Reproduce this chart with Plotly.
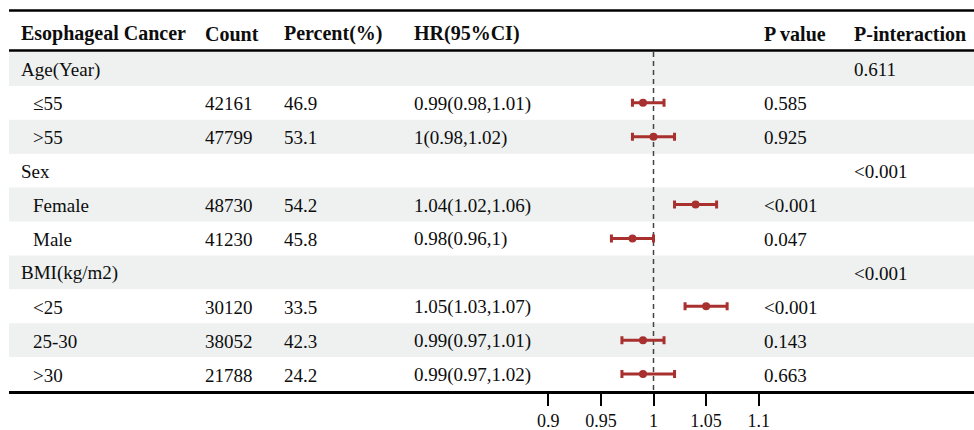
import plotly.graph_objects as go

# ---------------- data ----------------
headers = ["Esophageal Cancer", "Count", "Percent(%)", "HR(95%CI)", "P value", "P-interaction"]
labels = ["Age(Year)", "≤55", "&gt;55", "Sex", "Female", "Male", "BMI(kg/m2)", "&lt;25", "25-30", "&gt;30"]
is_group = [True, False, False, True, False, False, True, False, False, False]
counts = ["", "42161", "47799", "", "48730", "41230", "", "30120", "38052", "21788"]
percent = ["", "46.9", "53.1", "", "54.2", "45.8", "", "33.5", "42.3", "24.2"]
hr_text = ["", "0.99(0.98,1.01)", "1(0.98,1.02)", "", "1.04(1.02,1.06)", "0.98(0.96,1)",
           "", "1.05(1.03,1.07)", "0.99(0.97,1.01)", "0.99(0.97,1.02)"]
hr = [None, 0.99, 1.00, None, 1.04, 0.98, None, 1.05, 0.99, 0.99]
lo = [None, 0.98, 0.98, None, 1.02, 0.96, None, 1.03, 0.97, 0.97]
hi = [None, 1.01, 1.02, None, 1.06, 1.00, None, 1.07, 1.01, 1.02]
pvalue = ["", "0.585", "0.925", "", "&lt;0.001", "0.047", "", "&lt;0.001", "0.143", "0.663"]
pint = ["0.611", "", "", "&lt;0.001", "", "", "&lt;0.001", "", "", ""]
tick_vals = [0.9, 0.95, 1.0, 1.05, 1.1]
tick_text = ["0.9", "0.95", "1", "1.05", "1.1"]
ref_value = 1.0

# ---------------- layout helpers ----------------
W, H = 974, 430
ML, MR, MT, MB = 9, 0, 0, 39
FONT = "Liberation Serif"
TXT = "#0d0d0d"
RED = "#a8302f"
plot_w = W - ML - MR
plot_h = H - MT - MB
row_px = 33.9


def px(p):
    return (p - ML) / plot_w


def row_from_px(p):
    # convert pixel row position (from top) into row units
    return -0.5 - (52.0 - p) / row_px


col_x = [px(19), px(203), px(282), px(412), px(762), px(852)]
sub_x = px(31)
n = len(labels)
rows = list(range(n))
header_y = row_from_px(32.5)

fig = go.Figure()

# forest marks
xs, ys, ep, em = [], [], [], []
for i in rows:
    if hr[i] is not None:
        xs.append(hr[i])
        ys.append(i)
        ep.append(hi[i] - hr[i])
        em.append(hr[i] - lo[i])

fig.add_trace(go.Scatter(
    x=xs, y=ys, mode="markers",
    marker=dict(color=RED, size=8),
    error_x=dict(type="data", array=ep, arrayminus=em, color=RED, thickness=3, width=4),
    hoverinfo="skip", showlegend=False,
))

shapes = []
for i in rows:
    if i % 2 == 0:
        shapes.append(dict(type="rect", xref="paper", yref="y", x0=0, x1=1, y0=i - 0.5, y1=i + 0.5,
                           fillcolor="#eef1f0", line=dict(width=0), layer="below"))
shapes.append(dict(type="line", xref="x", yref="y", x0=ref_value, x1=ref_value, y0=-0.5, y1=n - 0.5,
                   line=dict(color="#444444", width=1.5, dash="5px,4px"), layer="below"))
shapes.append(dict(type="line", xref="paper", yref="y", x0=0, x1=1,
                   y0=row_from_px(10.5), y1=row_from_px(10.5),
                   line=dict(color="black", width=2.5), layer="above"))
shapes.append(dict(type="line", xref="paper", yref="y", x0=0, x1=1,
                   y0=row_from_px(50.5), y1=row_from_px(50.5),
                   line=dict(color="black", width=2.5), layer="above"))

ann = []


def add_text(x, y, t, bold=False):
    if not t:
        return
    ann.append(dict(xref="paper", yref="y", x=x, y=y, text=("<b>%s</b>" % t) if bold else t,
                    showarrow=False, xanchor="left", yanchor="middle", yshift=-1,
                    font=dict(family=FONT, size=20 if bold else 19, color=TXT)))


for j, h in enumerate(headers):
    add_text(col_x[j], header_y, h, bold=True)

for i in rows:
    add_text(col_x[0] if is_group[i] else sub_x, i, labels[i])
    add_text(col_x[1], i, counts[i])
    add_text(col_x[2], i, percent[i])
    add_text(col_x[3], i, hr_text[i])
    add_text(col_x[4], i, pvalue[i])
    add_text(col_x[5], i, pint[i])

x0 = 0.9 - (548.3 - ML) / 1052.0
x1 = x0 + plot_w / 1052.0

fig.update_layout(
    width=W, height=H,
    margin=dict(l=ML, r=MR, t=MT, b=MB),
    paper_bgcolor="white", plot_bgcolor="white",
    shapes=shapes, annotations=ann,
    xaxis=dict(range=[x0, x1], tickvals=tick_vals, ticktext=tick_text,
               showline=True, linecolor="black", linewidth=2.5,
               ticks="outside", ticklen=12, tickwidth=2, tickcolor="black",
               showgrid=False, zeroline=False, fixedrange=True,
               tickfont=dict(family=FONT, size=18, color=TXT)),
    yaxis=dict(range=[n - 0.5, n - 0.5 - plot_h / row_px], visible=False,
               showgrid=False, zeroline=False, fixedrange=True),
    showlegend=False,
)

fig.write_html("out.html", config={"displayModeBar": False},
               post_script="document.body.style.margin='0';document.body.style.padding='0';")
